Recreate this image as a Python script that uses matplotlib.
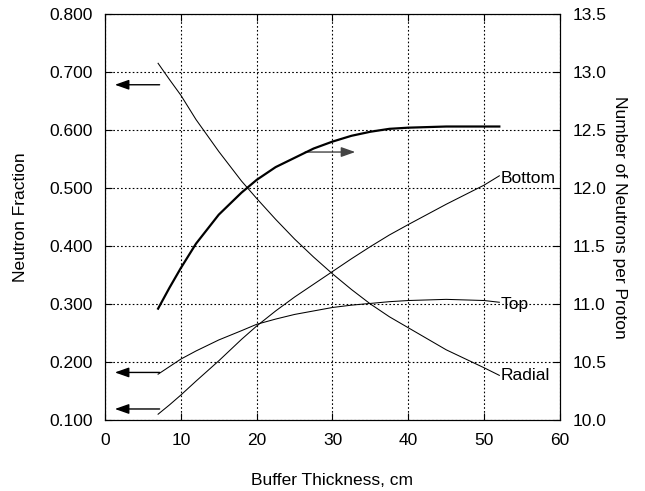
import matplotlib
matplotlib.use("Agg")
import matplotlib.pyplot as plt
import numpy as np

plt.rcParams["font.family"] = ["Liberation Sans", "DejaVu Sans"]

# buffer thickness (cm)
thickness = [7, 8.5, 10, 12, 15, 18, 20, 22.5, 25, 27.5, 30, 32.5, 35, 37.5, 40, 45, 50, 52]

# neutron fractions (left axis)
radial = [0.715, 0.687, 0.660, 0.618, 0.563, 0.512, 0.482, 0.446, 0.412, 0.381,
          0.352, 0.325, 0.300, 0.278, 0.259, 0.221, 0.190, 0.177]
bottom = [0.110, 0.126, 0.143, 0.167, 0.202, 0.239, 0.262, 0.288, 0.312, 0.334,
          0.356, 0.378, 0.399, 0.419, 0.437, 0.472, 0.505, 0.521]
top = [0.179, 0.192, 0.205, 0.219, 0.238, 0.254, 0.265, 0.274, 0.282, 0.288,
       0.294, 0.298, 0.301, 0.304, 0.306, 0.308, 0.306, 0.303]

# number of neutrons per proton (right axis)
n_per_proton = [10.96, 11.14, 11.31, 11.52, 11.77, 11.96, 12.07, 12.18, 12.26, 12.34,
                12.40, 12.45, 12.485, 12.51, 12.52, 12.53, 12.53, 12.53]

curve_labels = ["Radial", "Bottom", "Top"]


def main() -> None:
    fig = plt.figure(figsize=(6.45, 4.91), dpi=100)
    ax = fig.add_axes([0.1628, 0.1446, 0.7054, 0.8269])
    ax2 = ax.twinx()

    for series in (radial, bottom, top):
        ax.plot(thickness, series, color="black", linewidth=0.75)
    ax2.plot(thickness, n_per_proton, color="black", linewidth=1.6)

    ax.set_xlim(0, 60)
    ax.set_ylim(0.1, 0.8)
    ax2.set_ylim(10.0, 13.5)
    ax.set_xticks(np.arange(0, 61, 10))
    ax.set_yticks(np.arange(0.1, 0.81, 0.1))
    ax.set_yticklabels([f"{v:.3f}" for v in np.arange(0.1, 0.81, 0.1)])
    ax2.set_yticks(np.arange(10.0, 13.51, 0.5))
    ax2.set_yticklabels([f"{v:.1f}" for v in np.arange(10.0, 13.51, 0.5)])

    ax.grid(True, color="black", linestyle=(0, (1.5, 2)), linewidth=0.8)
    ax.tick_params(direction="in", length=5, top=True, labelsize=12.5, pad=9)
    ax.tick_params(axis="x", pad=9)
    ax2.tick_params(direction="in", length=5, labelsize=12.5, pad=9)

    ax.set_xlabel("Buffer Thickness, cm", fontsize=12.5, labelpad=18)
    ax.set_ylabel("Neutron Fraction", fontsize=12.5, labelpad=15)
    ax2.set_ylabel("Number of Neutrons per Proton", fontsize=12.5, rotation=-90,
                   labelpad=15)

    # curve labels at the right-hand ends
    ends = [radial[-1], bottom[-1] - 0.004, top[-1] - 0.004]
    for name, yv in zip(curve_labels, ends):
        ax.text(thickness[-1] + 0.2, yv, name, fontsize=12.5, va="center", ha="left")

    arrow = dict(arrowstyle="-|>,head_length=0.85,head_width=0.3", color="black",
                 lw=1.0, mutation_scale=10, shrinkA=0, shrinkB=0)
    for y0 in (0.678, 0.182, 0.119):
        ax.annotate("", xy=(1.3, y0), xytext=(7.2, y0), arrowprops=arrow)
    right_arrow = dict(arrow, color="#444444")
    ax.annotate("", xy=(33.0, 0.562), xytext=(26.4, 0.562), arrowprops=right_arrow)

    fig.savefig("out.png", dpi=100)


if __name__ == "__main__":
    main()
